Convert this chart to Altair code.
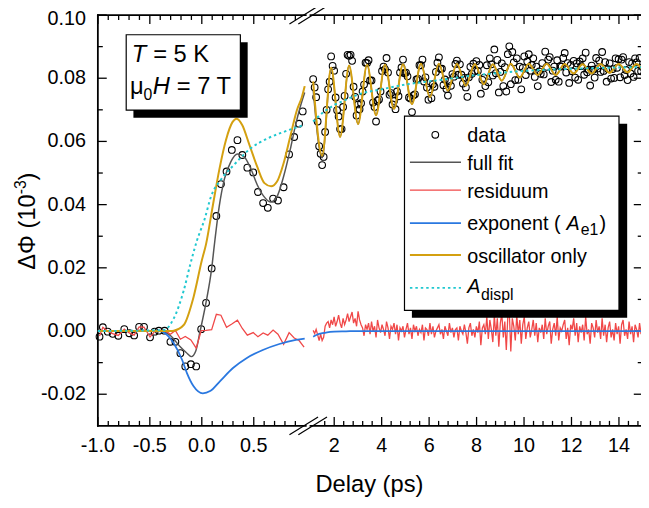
import altair as alt
import pandas as pd

FONT = "Liberation Sans"

# ---------------- left part (-1 ... 1 ps) ----------------
DATA_L_T = [-0.984, -0.952, -0.905, -0.857, -0.803, -0.746, -0.698, -0.651, -0.603, -0.556,
            -0.498, -0.454, -0.413, -0.358, -0.302, -0.254, -0.206, -0.159, -0.105, -0.054,
            -0.006, 0.041, 0.095, 0.14, 0.184, 0.238, 0.289, 0.343, 0.39, 0.438,
            0.495, 0.54, 0.59, 0.635, 0.686, 0.733, 0.787, 0.84, 0.889, 0.936, 0.971]
DATA_L_V = [-0.0018, 0.0012, -0.0002, -0.0009, -0.0015, 0.0006, -0.0007, -0.0014, 0.0013, 0.0013,
            -0.0020, -0.0002, 0.0001, 0.0001, -0.0034, -0.0034, -0.0070, -0.0112, -0.0105, -0.0112,
            0.0006, 0.0089, 0.0198, 0.0364, 0.0465, 0.0505, 0.0573, 0.0604, 0.0557, 0.0517,
            0.0502, 0.0440, 0.0405, 0.0390, 0.0419, 0.0413, 0.0455, 0.0559, 0.0614, 0.0656, 0.0695]

RES_L_T = [-0.984, -0.952, -0.905, -0.857, -0.803, -0.746, -0.698, -0.651, -0.603, -0.556,
           -0.498, -0.454, -0.413, -0.358, -0.302, -0.254, -0.206, -0.159, -0.105, -0.054,
           -0.006, 0.041, 0.095, 0.14, 0.184, 0.238, 0.289, 0.343, 0.39, 0.438,
           0.495, 0.54, 0.59, 0.635, 0.686, 0.733, 0.787, 0.84, 0.889, 0.936, 0.984]
RES_L_V = [-0.0016, 0.0012, -0.0001, -0.0008, -0.0014, 0.0006, -0.0006, -0.0013, 0.0013, 0.0012,
           -0.0019, -0.0002, 0.0001, 0.0002, -0.0010, 0.0002, -0.0026, -0.0017, -0.0028, -0.0054,
           0.0001, 0.0002, 0.0004, 0.0053, 0.0050, 0.0012, 0.0022, 0.0034, 0.0008, -0.0013,
           -0.0005, -0.0018, -0.0006, -0.0013, 0.0003, -0.0010, -0.0042, -0.0005, -0.0022, -0.0030, -0.0051]

FIT_L_T = [-1.0, -0.45, -0.37, -0.3, -0.21, -0.15, -0.10, -0.06, -0.016, 0.04, 0.095, 0.12, 0.168,
           0.216, 0.28, 0.343, 0.406, 0.47, 0.533, 0.597, 0.66, 0.724, 0.787, 0.85, 0.898, 0.946, 0.99]
FIT_L_V = [0.0, 0.0, -0.0002, -0.0015, -0.0049, -0.0068, -0.0081, -0.0065, 0.0, 0.0089, 0.0198, 0.0270, 0.0395,
           0.0479, 0.0536, 0.0560, 0.0552, 0.0515, 0.0463, 0.0426, 0.0408, 0.0426, 0.0489, 0.0573, 0.0646, 0.0708, 0.0755]

OSC_L_T = [-1.0, -0.3, -0.27, -0.174, -0.079, 0.0, 0.041, 0.105, 0.168, 0.232, 0.295, 0.336, 0.39,
           0.454, 0.533, 0.603, 0.667, 0.724, 0.787, 0.85, 0.914, 0.962, 0.99]
OSC_L_V = [0.0, 0.0, 0.0001, 0.0019, 0.0108, 0.0223, 0.0275, 0.0395, 0.0510, 0.0604, 0.0661, 0.0672, 0.0651,
           0.0593, 0.0520, 0.0468, 0.0458, 0.0473, 0.0531, 0.0614, 0.0698, 0.0740, 0.0775]

EXP_L_T = [-1.0, -0.40, -0.365, -0.27, -0.19, -0.143, -0.079, 0.01, 0.08, 0.174, 0.30, 0.43, 0.587, 0.746, 0.905, 0.99]
EXP_L_V = [0.0, 0.0, -0.0005, -0.0039, -0.0091, -0.0133, -0.0175, -0.0197, -0.0190, -0.0159, -0.0117,
           -0.0086, -0.0060, -0.0041, -0.0028, -0.0024]

DISPL_L_T = [-1.0, -0.365, -0.27, -0.174, -0.11, -0.048, 0.026, 0.089, 0.184, 0.31, 0.47, 0.63, 0.787, 0.946, 0.99]
DISPL_L_V = [0.0, 0.0003, 0.0040, 0.0128, 0.0212, 0.0285, 0.0353, 0.0426, 0.0479, 0.0526, 0.0578, 0.0609,
             0.0630, 0.0648, 0.0652]

# ---------------- right part (1 ... 15 ps) ----------------
T0_R = 1.113      # first delay of the long scan
DT_R = 0.0631     # delay step of the long scan
DATA_R_V = [
    0.0797, 0.0771, 0.0740, 0.0663, 0.0585, 0.0561, 0.0525, 0.0551, 0.0630, 0.0700, 0.0765, 0.0789,
    0.0869, 0.0839, 0.0824, 0.0739, 0.0699, 0.0679, 0.0639, 0.0639, 0.0709, 0.0744, 0.0814, 0.0874,
    0.0871, 0.0874, 0.0855, 0.0773, 0.0741, 0.0682, 0.0717, 0.0702, 0.0721, 0.0758, 0.0780, 0.0849,
    0.0848, 0.0857, 0.0793, 0.0793, 0.0723, 0.0709, 0.0663, 0.0729, 0.0733, 0.0758, 0.0823, 0.0837,
    0.0828, 0.0864, 0.0818, 0.0748, 0.0753, 0.0717, 0.0728, 0.0702, 0.0758, 0.0743, 0.0818, 0.0834,
    0.0859, 0.0816, 0.0818, 0.0806, 0.0739, 0.0736, 0.0693, 0.0746, 0.0749, 0.0796, 0.0798, 0.0841,
    0.0841, 0.0859, 0.0790, 0.0803, 0.0771, 0.0732, 0.0765, 0.0737, 0.0781, 0.0773, 0.0820, 0.0849,
    0.0866, 0.0830, 0.0830, 0.0778, 0.0796, 0.0766, 0.0745, 0.0791, 0.0776, 0.0813, 0.0805, 0.0845,
    0.0856, 0.0811, 0.0844, 0.0811, 0.0783, 0.0801, 0.0771, 0.0741, 0.0803, 0.0836, 0.0814, 0.0846,
    0.0823, 0.0854, 0.0823, 0.0842, 0.0751, 0.0795, 0.0801, 0.0775, 0.0841, 0.0787, 0.0863, 0.0844,
    0.0809, 0.0891, 0.0816, 0.0858, 0.0755, 0.0820, 0.0847, 0.0775, 0.0835, 0.0758, 0.0876, 0.0901,
    0.0781, 0.0883, 0.0850, 0.0794, 0.0863, 0.0795, 0.0837, 0.0765, 0.0833, 0.0869, 0.0810, 0.0853,
    0.0876, 0.0824, 0.0842, 0.0863, 0.0804, 0.0837, 0.0775, 0.0822, 0.0814, 0.0848, 0.0812, 0.0884,
    0.0836, 0.0859, 0.0867, 0.0788, 0.0824, 0.0837, 0.0795, 0.0857, 0.0789, 0.0838, 0.0837, 0.0864,
    0.0880, 0.0818, 0.0848, 0.0785, 0.0842, 0.0822, 0.0855, 0.0802, 0.0847, 0.0795, 0.0853, 0.0838,
    0.0863, 0.0811, 0.0881, 0.0819, 0.0827, 0.0777, 0.0840, 0.0827, 0.0802, 0.0864, 0.0831, 0.0856,
    0.0820, 0.0883, 0.0823, 0.0851, 0.0789, 0.0829, 0.0847, 0.0799, 0.0829, 0.0801, 0.0863, 0.0833,
    0.0860, 0.0803, 0.0859, 0.0867, 0.0810, 0.0826, 0.0794, 0.0851, 0.0815, 0.0847, 0.0804, 0.0863,
    0.0850, 0.0823, 0.0864, 0.0822, 0.0835]
RES_R_V = [
    0.0002, -0.0008, 0.0005, -0.0012, -0.0030, -0.0010, -0.0030, -0.0020, 0.0015, 0.0025, 0.0030, 0.0010,
    0.0035, 0.0020, 0.0045, 0.0015, 0.0030, 0.0050, 0.0025, 0.0010, 0.0040, 0.0020, 0.0035, 0.0055,
    0.0030, 0.0045, 0.0060, 0.0025, 0.0040, 0.0015, 0.0062, 0.0035, 0.0020, 0.0010, -0.0015, 0.0020,
    0.0005, 0.0025, -0.0010, 0.0030, 0.0000, 0.0015, -0.0020, 0.0035, 0.0010, -0.0005, 0.0020, 0.0005,
    -0.0015, 0.0030, 0.0010, -0.0025, 0.0015, 0.0005, 0.0025, -0.0010, 0.0020, -0.0030, 0.0010, 0.0000,
    0.0015, -0.0020, 0.0005, 0.0025, -0.0010, 0.0010, -0.0025, 0.0020, 0.0000, 0.0015, -0.0015, 0.0005,
    -0.0005, 0.0020, -0.0030, 0.0010, 0.0005, -0.0015, 0.0025, -0.0010, 0.0015, -0.0020, 0.0000, 0.0010,
    0.0020, -0.0010, 0.0005, -0.0025, 0.0015, 0.0000, -0.0015, 0.0025, -0.0005, 0.0010, -0.0020, 0.0005,
    0.0010, -0.0030, 0.0015, 0.0000, -0.0010, 0.0020, -0.0005, -0.0040, 0.0010, 0.0025, -0.0015, 0.0005,
    -0.0020, 0.0015, -0.0005, 0.0030, -0.0045, 0.0010, 0.0020, -0.0010, 0.0045, -0.0025, 0.0035, 0.0005,
    -0.0035, 0.0050, -0.0015, 0.0040, -0.0050, 0.0025, 0.0055, -0.0020, 0.0030, -0.0060, 0.0045, 0.0060,
    -0.0065, 0.0040, 0.0015, -0.0030, 0.0050, -0.0010, 0.0035, -0.0040, 0.0020, 0.0045, -0.0025, 0.0010,
    0.0030, -0.0020, 0.0005, 0.0035, -0.0015, 0.0025, -0.0035, 0.0010, -0.0005, 0.0020, -0.0025, 0.0040,
    -0.0010, 0.0015, 0.0030, -0.0040, 0.0005, 0.0025, -0.0015, 0.0045, -0.0030, 0.0010, 0.0000, 0.0020,
    0.0035, -0.0025, 0.0010, -0.0045, 0.0020, 0.0005, 0.0040, -0.0015, 0.0025, -0.0035, 0.0015, -0.0005,
    0.0020, -0.0030, 0.0045, -0.0010, 0.0005, -0.0040, 0.0025, 0.0010, -0.0020, 0.0035, -0.0005, 0.0015,
    -0.0025, 0.0040, -0.0015, 0.0020, -0.0035, 0.0010, 0.0030, -0.0020, 0.0005, -0.0030, 0.0025, -0.0010,
    0.0015, -0.0040, 0.0020, 0.0035, -0.0015, 0.0005, -0.0025, 0.0030, -0.0010, 0.0015, -0.0035, 0.0020,
    0.0005, -0.0020, 0.0025, -0.0010, 0.0010]
T_R = [round(T0_R + DT_R * i, 4) for i in range(len(DATA_R_V))]

# oscillator-only curve: turning points
OSC_R_T = [1.113, 1.4915, 1.870, 2.2485, 2.627, 3.0055, 3.384, 3.7625, 4.141, 4.5195, 4.898, 5.2765,
           5.655, 6.0335, 6.412, 6.7905, 7.169, 7.5475, 7.926, 8.3045, 8.683, 9.0615, 9.440, 9.8185,
           10.197, 10.5755, 10.954, 11.3325, 11.711, 12.0895, 12.468, 12.8465, 13.225, 13.6035,
           13.982, 14.3605, 14.739, 14.995]
OSC_R_V = [0.0790, 0.0555, 0.0834, 0.0614, 0.0840, 0.0655, 0.0843, 0.0683, 0.0843, 0.0703, 0.0844, 0.0718,
           0.0846, 0.0740, 0.0846, 0.0760, 0.0846, 0.0776, 0.0845, 0.0781, 0.0844, 0.0792, 0.0846, 0.0802,
           0.0846, 0.0810, 0.0846, 0.0810, 0.0845, 0.0815, 0.0844, 0.0815, 0.0845, 0.0817, 0.0845, 0.0819,
           0.0845, 0.0826]
FIT_R_V = [0.0765, 0.0548, 0.0831] + OSC_R_V[3:]

EXP_R_T = [1.113, 1.3, 1.5, 1.7, 2.0, 2.5, 3.0, 15.0]
EXP_R_V = [-0.0018, -0.0011, -0.0007, -0.0004, -0.0002, -0.0001, 0.0, 0.0]

DISPL_R_T = [1.113, 1.5, 2.0, 2.5, 3.0, 4.0, 5.0, 6.0, 7.0, 8.0, 9.0, 10.0, 11.0, 12.0, 13.0, 14.0, 15.0]
DISPL_R_V = [0.0663, 0.0690, 0.0715, 0.0732, 0.0748, 0.0765, 0.0780, 0.0790, 0.0800, 0.0810, 0.0817,
             0.0823, 0.0827, 0.0830, 0.0832, 0.0834, 0.0835]

# ---------------- axes ----------------
X_MAJOR = [-1.0, -0.5, 0.0, 0.5, 2, 4, 6, 8, 10, 12, 14]
X_LABELS = ["-1.0", "-0.5", "0.0", "0.5", "2", "4", "6", "8", "10", "12", "14"]
X_MINOR = [-0.9, -0.8, -0.7, -0.6, -0.4, -0.3, -0.2, -0.1, 0.1, 0.2, 0.3, 0.4, 0.6, 0.7, 0.8, 0.9,
           1.6, 2.4, 2.8, 3.2, 3.6, 4.4, 4.8, 5.2, 5.6, 6.4, 6.8, 7.2, 7.6, 8.4, 8.8, 9.2, 9.6,
           10.4, 10.8, 11.2, 11.6, 12.4, 12.8, 13.2, 13.6, 14.4, 14.8]
Y_MAJOR = [-0.02, 0.0, 0.02, 0.04, 0.06, 0.08, 0.10]
Y_LABELS = ["-0.02", "0.00", "0.02", "0.04", "0.06", "0.08", "0.10"]
Y_MINOR = [-0.01, 0.01, 0.03, 0.05, 0.07, 0.09]

C_FIT = "#555555"
C_RES = "#f04848"
C_EXP = "#2a78e0"
C_OSC = "#d4a010"
C_DISPL = "#20c8d0"

W, H = 550, 416
XS = alt.Scale(domain=[-1.0, 1.0, 1.0001, 15.0], range=[0, 210.5, 215.3, 551.7], nice=False, zero=False)
YS = alt.Scale(domain=[-0.03, 0.10], nice=False, zero=False)
X = alt.X("t:Q", scale=XS, axis=None)
Y = alt.Y("v:Q", scale=YS, axis=None)
ONE = pd.DataFrame({"k": [0]})


def df(t, v):
    return pd.DataFrame({"t": t, "v": v})


def line(t, v, color, width, dash=None):
    kw = dict(color=color, strokeWidth=width, interpolate="monotone")
    if dash:
        kw["strokeDash"] = dash
    return alt.Chart(df(t, v)).mark_line(**kw).encode(x=X, y=Y)


def txt(s, x, y, size=20, italic=False, align="left", angle=0):
    return alt.Chart(ONE).mark_text(
        text=s, align=align, baseline="alphabetic", fontSize=size, font=FONT,
        fontStyle="italic" if italic else "normal", angle=angle, color="black"
    ).encode(x=alt.value(x), y=alt.value(y))


def prule(x1, y1, x2, y2, color="black", width=1.2, dash=None):
    kw = dict(color=color, strokeWidth=width)
    if dash:
        kw["strokeDash"] = dash
    return alt.Chart(ONE).mark_rule(**kw).encode(
        x=alt.value(x1), y=alt.value(y1), x2=alt.value(x2), y2=alt.value(y2))


def prect(x1, y1, x2, y2, fill, stroke=None):
    kw = dict(fill=fill)
    if stroke:
        kw.update(stroke=stroke, strokeWidth=1.2)
    return alt.Chart(ONE).mark_rect(**kw).encode(
        x=alt.value(x1), y=alt.value(y1), x2=alt.value(x2), y2=alt.value(y2))


layers = []

# frame
hseg = pd.DataFrame({"t": [-1.0, 1.0001, -1.0, 1.0001], "t2": [1.0, 15.0, 1.0, 15.0],
                     "v": [-0.03, -0.03, 0.10, 0.10]})
layers.append(alt.Chart(hseg).mark_rule(color="black", strokeWidth=1.8, strokeCap="square")
              .encode(x=X, x2="t2:Q", y=Y))
layers.append(alt.Chart(pd.DataFrame({"t": [-1.0]})).mark_rule(color="black", strokeWidth=1.8, strokeCap="square")
              .encode(x=X, y=alt.value(0), y2=alt.value(H)))

# ticks
xmaj = pd.DataFrame({"t": X_MAJOR, "label": X_LABELS})
xmin = pd.DataFrame({"t": X_MINOR})
ymaj = pd.DataFrame({"v": Y_MAJOR, "label": Y_LABELS})
ymin = pd.DataFrame({"v": Y_MINOR})
for d, ln in ((xmaj, 9), (xmin, 5)):
    layers.append(alt.Chart(d).mark_rule(color="black", strokeWidth=1.3)
                  .encode(x=X, y=alt.value(H), y2=alt.value(H - ln)))
    layers.append(alt.Chart(d).mark_rule(color="black", strokeWidth=1.3)
                  .encode(x=X, y=alt.value(0), y2=alt.value(ln)))
for d, ln in ((ymaj, 9), (ymin, 5)):
    layers.append(alt.Chart(d).mark_rule(color="black", strokeWidth=1.3)
                  .encode(y=Y, x=alt.value(0), x2=alt.value(ln)))
    layers.append(alt.Chart(d).mark_rule(color="black", strokeWidth=1.3)
                  .encode(y=Y, x=alt.value(551.7 - ln), x2=alt.value(551.7)))

# tick labels
layers.append(alt.Chart(xmaj).mark_text(align="center", baseline="alphabetic", fontSize=20, font=FONT, color="black")
              .encode(x=X, y=alt.value(443), text="label:N"))
ylab_lo = ymaj[ymaj["v"] < 0.095]
ylab_hi = ymaj[ymaj["v"] >= 0.095]
layers.append(alt.Chart(ylab_lo).mark_text(align="right", baseline="middle", fontSize=20, font=FONT, color="black")
              .encode(y=Y, x=alt.value(-12), text="label:N"))
layers.append(alt.Chart(ylab_hi).mark_text(align="right", baseline="middle", fontSize=20, font=FONT, color="black",
                                            dy=4)
              .encode(y=Y, x=alt.value(-12), text="label:N"))

# axis break marks
for (a, b) in ((194, 203),):
    layers.append(prule(a, 9, a + 29, -9))
    layers.append(prule(b, 9, b + 29, -9))
    layers.append(prule(a, H + 9, a + 29, H - 9))
    layers.append(prule(b, H + 9, b + 29, H - 9))

# axis titles
layers.append(txt("Delay (ps)", 275, 483, size=24, align="center"))
layers.append(txt("ΔΦ (10", -64, 258, size=24, angle=270))
layers.append(txt("-3", -73, 181.5, size=16, angle=270))
layers.append(txt(")", -64, 167.5, size=24, angle=270))

# data
pt = dict(shape="circle", filled=False, size=46, strokeWidth=1.1, color="black", opacity=1)
layers.append(alt.Chart(df(DATA_L_T, DATA_L_V)).mark_point(**pt).encode(x=X, y=Y))
layers.append(alt.Chart(df(T_R, DATA_R_V)).mark_point(**pt).encode(x=X, y=Y))

# curves
layers.append(line(FIT_L_T, FIT_L_V, C_FIT, 1.5))
layers.append(line(OSC_R_T, FIT_R_V, C_FIT, 1.5))
layers.append(alt.Chart(df(RES_L_T, RES_L_V)).mark_line(color=C_RES, strokeWidth=1.3).encode(x=X, y=Y))
layers.append(alt.Chart(df(T_R, RES_R_V)).mark_line(color=C_RES, strokeWidth=1.3).encode(x=X, y=Y))
layers.append(line(EXP_L_T, EXP_L_V, C_EXP, 1.8))
layers.append(line(EXP_R_T, EXP_R_V, C_EXP, 1.8))
layers.append(line(OSC_L_T, OSC_L_V, C_OSC, 2.0))
layers.append(line(OSC_R_T, OSC_R_V, C_OSC, 2.0))
layers.append(line(DISPL_L_T, DISPL_L_V, C_DISPL, 2.0, dash=[2.5, 3]))
layers.append(line(DISPL_R_T, DISPL_R_V, C_DISPL, 2.0, dash=[2.5, 3]))

# annotation box
layers.append(prect(36, 27.5, 151.7, 104, "black"))
layers.append(prect(28.7, 20, 144.3, 96.3, "white", stroke="black"))
layers.append(txt("T", 34.3, 48, size=24, italic=True))
layers.append(txt("= 5 K", 56, 48, size=24))
layers.append(txt("μ", 32.5, 79.7, size=24))
layers.append(txt("0", 46.3, 86, size=16))
layers.append(txt("H", 55.7, 79.7, size=24, italic=True))
layers.append(txt("= 7 T", 80, 79.7, size=24))

# legend box
layers.append(prect(318, 110, 536, 306.5, "black"))
layers.append(prect(310.5, 102.3, 527.7, 299, "white", stroke="black"))
layers.append(alt.Chart(ONE).mark_point(**pt).encode(x=alt.value(341.7), y=alt.value(121.3)))
layers.append(prule(316, 149, 367.7, 149, C_FIT, 1.5))
layers.append(prule(316, 177.3, 367.7, 177.3, C_RES, 1.3))
layers.append(prule(316, 210.7, 367.7, 210.7, C_EXP, 1.8))
layers.append(prule(316, 243, 367.7, 243, C_OSC, 2.0))
layers.append(prule(316, 276.3, 367.7, 276.3, C_DISPL, 2.0, dash=[2.5, 3]))
layers.append(txt("data", 374, 128.7))
layers.append(txt("full fit", 374, 157))
layers.append(txt("residuum", 374, 185.7))
layers.append(txt("exponent (", 374, 218))
layers.append(txt("A", 474.5, 218, italic=True))
layers.append(txt("e1", 489, 223, size=16))
layers.append(txt(")", 508, 218))
layers.append(txt("oscillator only", 374, 251.3))
layers.append(txt("A", 374, 281.5, italic=True))
layers.append(txt("displ", 388, 288.5, size=16))

chart = alt.layer(*layers).properties(
    width=W, height=H,
    padding={"left": 91, "top": 4, "right": 0, "bottom": 72},
    autosize=alt.AutoSizeParams(type="none"),
    background="white",
).configure_view(stroke=None)

chart.save("out.html", embed_options={"renderer": "svg", "actions": False})
